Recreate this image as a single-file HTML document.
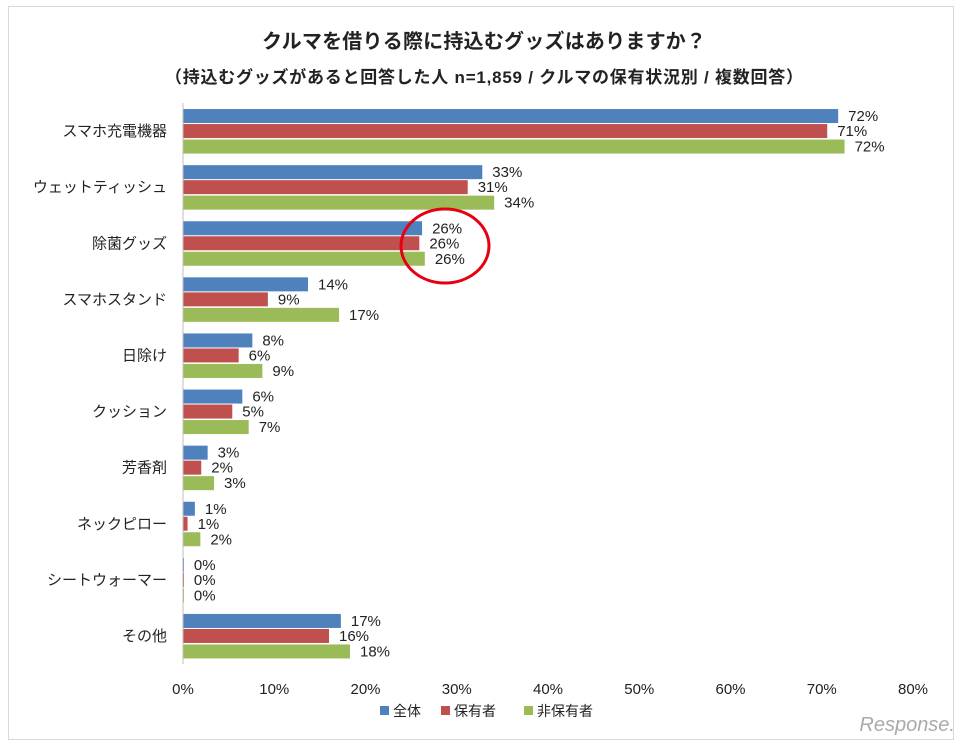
<!DOCTYPE html>
<html><head><meta charset="utf-8"><style>
body{margin:0;background:#fff;width:968px;height:748px;overflow:hidden;font-family:"Liberation Sans","Noto Sans CJK JP",sans-serif}
svg text{font-family:"Liberation Sans","Noto Sans CJK JP",sans-serif}
</style></head><body>
<svg id="c" width="968" height="748">
<rect x="8.5" y="6.5" width="945" height="733" fill="#fff" stroke="#d9d9d9"/>
<text x="484" y="48" text-anchor="middle" font-size="20" font-weight="bold" fill="#222" textLength="444">クルマを借りる際に持込むグッズはありますか？</text>
<text x="484" y="83" text-anchor="middle" font-size="17" font-weight="bold" fill="#222" textLength="638">（持込むグッズがあると回答した人 n=1,859 / クルマの保有状況別 / 複数回答）</text>
<g id="plot"></g>
<ellipse cx="445" cy="246" rx="44" ry="37" fill="none" stroke="#e60012" stroke-width="3"/>
<g>
<rect x="380" y="706" width="9" height="9" fill="#4f81bd"/>
<text x="393" y="716" font-size="14" fill="#222">全体</text>
<rect x="441" y="706" width="9" height="9" fill="#c0504d"/>
<text x="454" y="716" font-size="14" fill="#222">保有者</text>
<rect x="524" y="706" width="9" height="9" fill="#9bbb59"/>
<text x="537" y="716" font-size="14" fill="#222">非保有者</text>
</g>
<text x="955" y="731" text-anchor="end" font-size="20" fill="#aaa" font-style="italic">Response.</text>
</svg>
<script>
const categories=["スマホ充電機器","ウェットティッシュ","除菌グッズ","スマホスタンド","日除け","クッション","芳香剤","ネックピロー","シートウォーマー","その他"];
const allValues=[71.8,32.8,26.2,13.7,7.6,6.5,2.7,1.3,0.1,17.3];
const ownerValues=[70.6,31.2,25.9,9.3,6.1,5.4,2.0,0.5,0.1,16.0];
const nonOwnerValues=[72.5,34.1,26.5,17.1,8.7,7.2,3.4,1.9,0.1,18.3];
const allLabels=["72%","33%","26%","14%","8%","6%","3%","1%","0%","17%"];
const ownerLabels=["71%","31%","26%","9%","6%","5%","2%","1%","0%","16%"];
const nonOwnerLabels=["72%","34%","26%","17%","9%","7%","3%","2%","0%","18%"];
const xTicks=[0,10,20,30,40,50,60,70,80];
const NS="http://www.w3.org/2000/svg";
const g=document.getElementById('plot');
const x0=183,x1=913,xMax=80,yTop=103,band=56.1;
const xs=v=>x0+(x1-x0)*v/xMax;
const yc=i=>yTop+band*i+band/2;
function mk(t,a){const e=document.createElementNS(NS,t);for(const k in a)e.setAttribute(k,a[k]);g.appendChild(e);return e;}
const series=[[allValues,allLabels,"#4f81bd",-15,"all"],[ownerValues,ownerLabels,"#c0504d",0,"owner"],[nonOwnerValues,nonOwnerLabels,"#9bbb59",15.5,"nonowner"]];
categories.forEach((c,i)=>{
 const t=mk('text',{x:167,y:yc(i)+5,'text-anchor':'end','font-size':15,fill:'#222'});t.textContent=c;
 
 
 series.forEach(s=>{
  const v=s[0][i],cy=yc(i)+s[3];
  const r=mk('rect',{x:x0,y:cy-7,width:Math.max(xs(v)-x0,1),height:14,fill:s[2]});
  
  
  const l=mk('text',{x:xs(v)+10,y:cy+5,'font-size':15,fill:'#222'});l.textContent=s[1][i];
  
  
 });
});
const ax=mk('line',{x1:x0,y1:yTop,x2:x0,y2:yTop+band*10,stroke:'#bfbfbf'});


xTicks.forEach(v=>{const t=mk('text',{x:xs(v),y:694,'text-anchor':'middle','font-size':15,fill:'#222'});t.textContent=v+'%';
 
 });
</script>
</body></html>
